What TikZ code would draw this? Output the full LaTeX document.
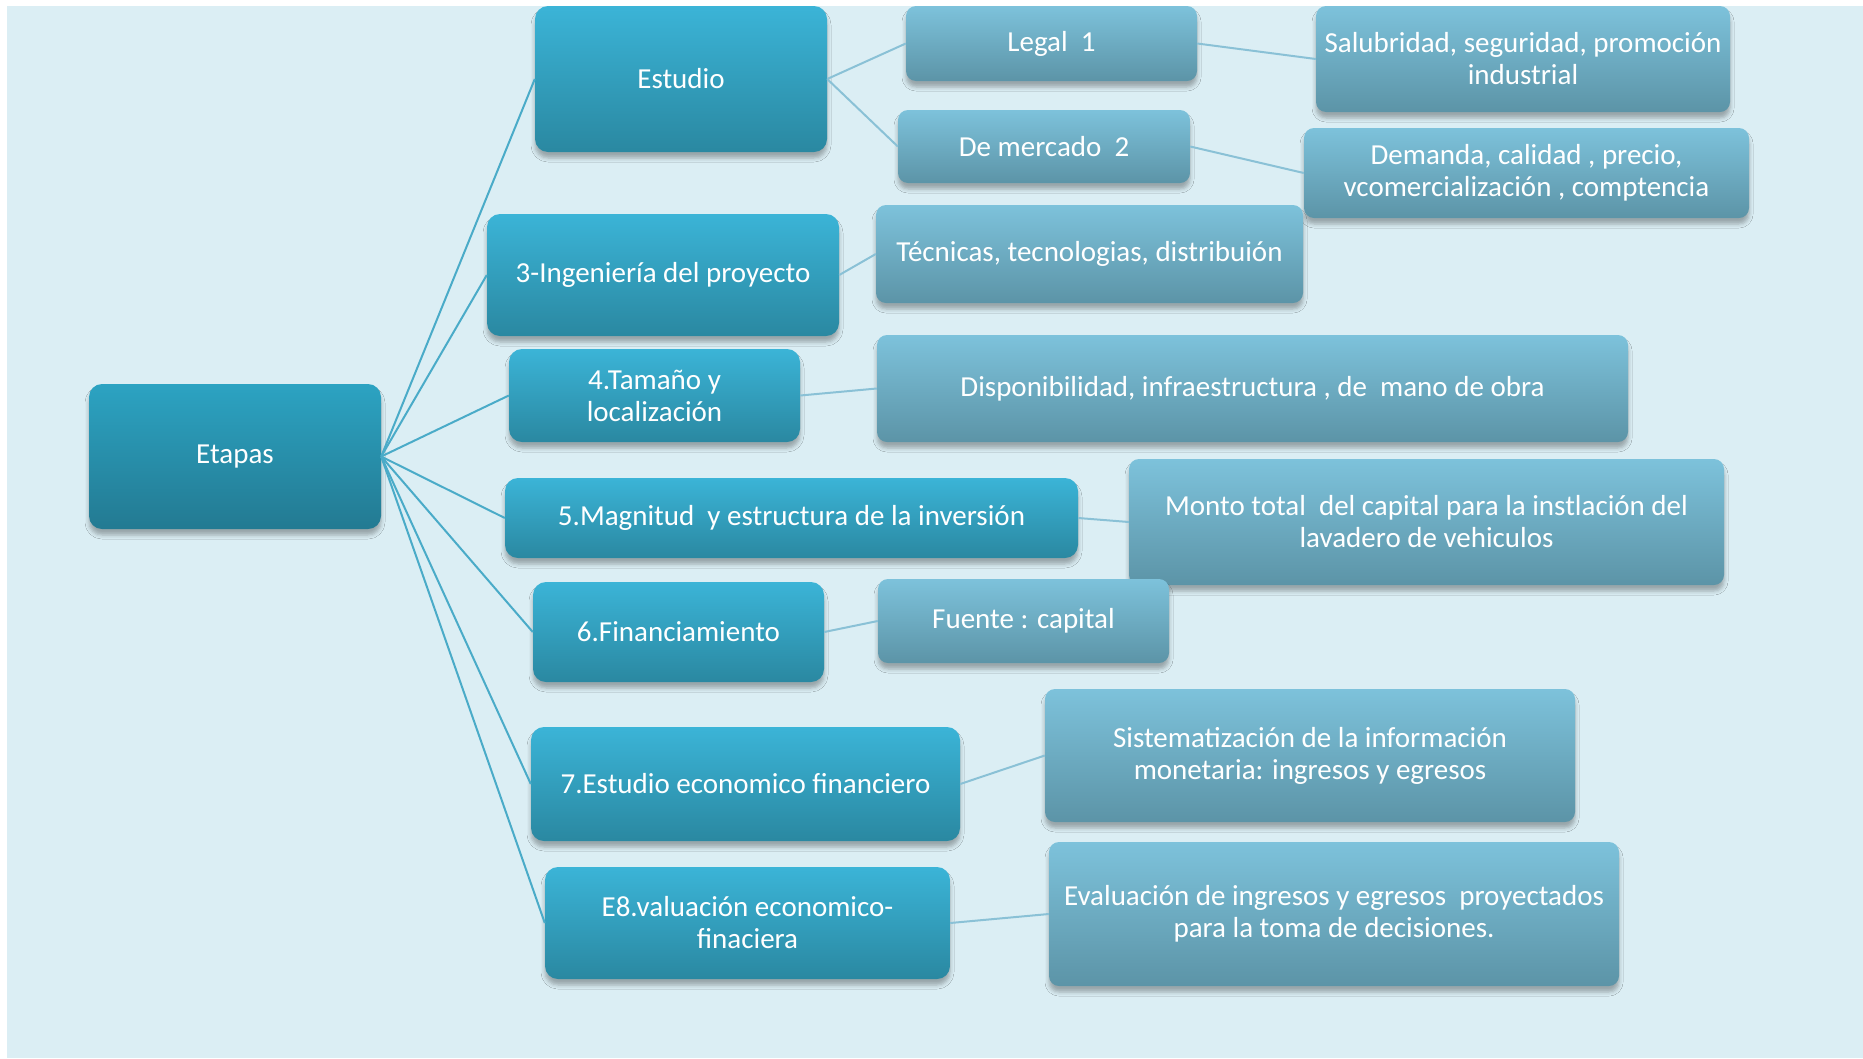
\documentclass[tikz,border=0pt]{standalone}
\usepackage{fontspec}
\setmainfont{Carlito}
\usetikzlibrary{shadows.blur}
\definecolor{bgc}{HTML}{DBEEF4}
\definecolor{midtop}{HTML}{3BB4D7}
\definecolor{midbot}{HTML}{2A88A1}
\definecolor{roottop}{HTML}{2CA3C2}
\definecolor{rootbot}{HTML}{237A92}
\definecolor{lefttop}{HTML}{7DC2DB}
\definecolor{leftbot}{HTML}{5C94A7}
\definecolor{mainline}{HTML}{4AABC8}
\definecolor{subline}{HTML}{8AC1D6}
\tikzset{
  box/.style={rectangle, rounded corners=13pt, text=white, align=center,
    inner sep=0pt, font=\fontsize{29}{32}\selectfont,
    blur shadow={shadow xshift=0pt, shadow yshift=-6pt, shadow blur radius=4pt, shadow opacity=30, shadow blur extra rounding=2pt}},
  rootbox/.style={box, top color=roottop, bottom color=rootbot},
  midbox/.style={box, top color=midtop, bottom color=midbot},
  leafbox/.style={box, rounded corners=10pt, top color=lefttop, bottom color=leftbot},
  mline/.style={draw=mainline, line width=2pt},
  sline/.style={draw=subline, line width=2pt},
}
\newcommand{\bx}[7]{% style, name, x1, y1, x2, y2, text
  \node[#1, minimum width={(#5-#3)*1pt}, minimum height={(#6-#4)*1pt}] (#2) at ({(#3+#5)/2},{(#4+#6)/2}) {#7};}
\begin{document}
\begin{tikzpicture}[x=1pt,y=-1pt]
\useasboundingbox (0,0) rectangle (1863,1058);
\fill[white] (0,0) rectangle (1863,1058);
\fill[bgc] (7,6) rectangle (1863,1058);
% root
\bx{rootbox}{etapas}{89}{384}{381}{529}{Etapas}
% mid level
\bx{midbox}{estudio}{535}{6}{827}{152}{Estudio}
\bx{midbox}{ing}{487}{214}{839}{336}{3-Ingeniería del proyecto}
\bx{midbox}{tam}{509}{349}{800}{442}{4.Tamaño y\\localización}
\bx{midbox}{mag}{505}{478}{1078}{558}{5.Magnitud\ \ y estructura de la inversión}
\bx{midbox}{fin}{533}{582}{824}{682}{6.Financiamiento}
\bx{midbox}{eco}{531}{727}{960}{841}{7.Estudio economico financiero}
\bx{midbox}{eva}{545}{867}{950}{979}{E8.valuación economico-\\finaciera}
% leaves
\bx{leafbox}{legal}{906}{6}{1197}{81}{Legal\ \ 1}
\bx{leafbox}{merc}{898}{110}{1190}{183}{De mercado\ \ 2}
\bx{leafbox}{salu}{1316}{6}{1730}{112}{Salubridad, seguridad, promoción\\industrial}
\bx{leafbox}{dem}{1304}{128}{1749}{218}{Demanda, calidad , precio,\\vcomercialización , comptencia}
\bx{leafbox}{tec}{876}{205}{1303}{303}{Técnicas, tecnologias, distribuión}
\bx{leafbox}{disp}{877}{335}{1628}{442}{Disponibilidad, infraestructura , de\ \ mano de obra}
\bx{leafbox}{monto}{1129}{459}{1724}{585}{Monto total\ \ del capital para la instlación del\\lavadero de vehiculos}
\bx{leafbox}{fuente}{878}{579}{1169}{663}{Fuente : capital}
\bx{leafbox}{sist}{1045}{689}{1575}{822}{Sistematización de la información\\monetaria: ingresos y egresos}
\bx{leafbox}{evl}{1049}{842}{1619}{986}{Evaluación de ingresos y egresos\ \ proyectados\\para la toma de decisiones.}
% connectors
\foreach \t in {estudio,ing,tam,mag,fin,eco,eva}
  \draw[mline] (etapas.east) -- (\t.west);
\draw[sline] (estudio.east) -- (legal.west);
\draw[sline] (estudio.east) -- (merc.west);
\draw[sline] (legal.east) -- (salu.west);
\draw[sline] (merc.east) -- (dem.west);
\draw[sline] (ing.east) -- (tec.west);
\draw[sline] (tam.east) -- (disp.west);
\draw[sline] (mag.east) -- (monto.west);
\draw[sline] (fin.east) -- (fuente.west);
\draw[sline] (eco.east) -- (sist.west);
\draw[sline] (eva.east) -- (evl.west);
\end{tikzpicture}
\end{document}
